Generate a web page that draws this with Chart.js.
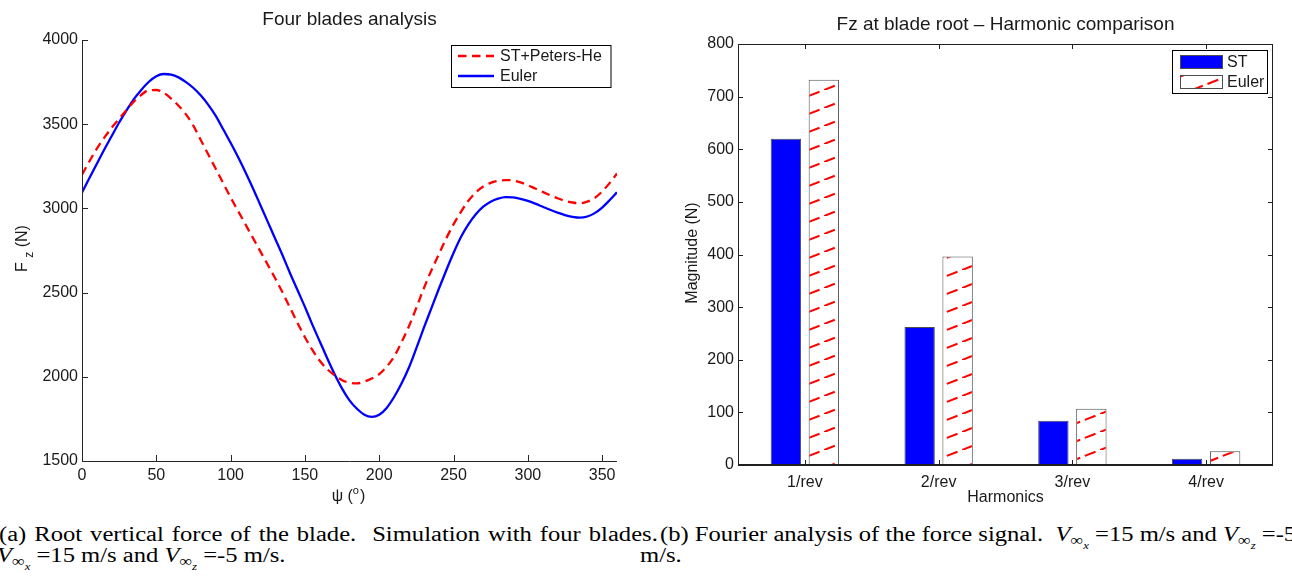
<!DOCTYPE html>
<html lang="en">

<head>
    <meta charset="UTF-8" />
    <title>Four blades analysis</title>
    <script src="https://cdn.jsdelivr.net/npm/chart.js"></script>
    <style>
        body {
            margin: 0;
            width: 1292px;
            height: 577px;
            overflow: hidden;
            background: #fff;
            position: relative;
        }

        .panel {
            position: absolute;
            top: 0;
        }

        .cap {
            position: absolute;
            font-family: "Liberation Serif", "Times New Roman", serif;
            font-size: 20.5px;
            line-height: 20px;
            white-space: nowrap;
            color: #000;
            transform: scaleX(1.2);
            transform-origin: 0 0;
        }

        .s1 {
            font-size: 0.72em;
            position: relative;
            top: 0.28em;
        }

        .s2 {
            font-size: 0.72em;
            position: relative;
            top: 0.35em;
        }
    </style>
</head>

<body>
    <div class="panel" style="left:0"><canvas id="fzChart" width="640" height="510"></canvas></div>
    <div class="panel" style="left:640px"><canvas id="harmChart" width="652" height="510"></canvas></div>

    <div class="cap" style="left:-1px; top:524px; width:549px; white-space:normal; text-align:justify; text-align-last:justify;">(a) Root vertical force of the blade.&nbsp; Simulation with four blades.</div>
    <div class="cap" style="left:-3px; top:545px;"><i>V</i><span class="s1">∞<span class="s2"><i>x</i></span></span> =15 m/s and <i>V</i><span class="s1">∞<span class="s2"><i>z</i></span></span> =-5 m/s.</div>
    <div class="cap" style="left:660px; top:524px;">(b) Fourier analysis of the force signal.&nbsp; <i>V</i><span class="s1">∞<span class="s2"><i>x</i></span></span> =15 m/s and <i>V</i><span class="s1">∞<span class="s2"><i>z</i></span></span> =-5</div>
    <div class="cap" style="left:640px; top:545px;">m/s.</div>

    <script>
        Chart.defaults.font.family = '"Liberation Sans", Arial, Helvetica, sans-serif';
        Chart.defaults.font.size = 16;
        Chart.defaults.color = '#1a1a1a';

        // azimuth (deg) and root force Fz (N)
        const psiDeg = [0, 5, 10, 15, 20, 25, 30, 35, 40, 45, 50, 55, 60, 65, 70, 75, 80, 85, 90, 95,
            100, 105, 110, 115, 120, 125, 130, 135, 140, 145, 150, 155, 160, 165, 170, 175, 180, 185, 190, 195,
            200, 205, 210, 215, 220, 225, 230, 235, 240, 245, 250, 255, 260, 265, 270, 275, 280, 285, 290, 295,
            300, 305, 310, 315, 320, 325, 330, 335, 340, 345, 350, 355, 360];
        const fzStPetersHe = [3200, 3280, 3355, 3420, 3480, 3532, 3585, 3635, 3675, 3702, 3703, 3686, 3652, 3610, 3558, 3490, 3405, 3320, 3235, 3150,
            3065, 2985, 2905, 2825, 2745, 2665, 2585, 2500, 2410, 2320, 2235, 2160, 2095, 2045, 2010, 1980, 1965, 1961, 1972, 1990,
            2016, 2060, 2120, 2205, 2300, 2410, 2525, 2630, 2725, 2820, 2905, 2980, 3045, 3095, 3130, 3152, 3163, 3168, 3166, 3155,
            3138, 3118, 3098, 3078, 3060, 3045, 3035, 3030, 3040, 3062, 3100, 3150, 3207];
        const fzEuler = [3095, 3180, 3265, 3350, 3430, 3510, 3582, 3650, 3705, 3752, 3785, 3798, 3795, 3778, 3750, 3715, 3670, 3615, 3550, 3470,
            3390, 3305, 3215, 3120, 3020, 2920, 2820, 2720, 2615, 2515, 2415, 2310, 2210, 2110, 2015, 1930, 1860, 1810, 1775, 1762,
            1775, 1815, 1880, 1960, 2055, 2170, 2290, 2405, 2520, 2630, 2735, 2830, 2905, 2965, 3010, 3040, 3058, 3067, 3065, 3057,
            3045, 3028, 3010, 2992, 2975, 2960, 2950, 2945, 2952, 2972, 3005, 3048, 3095];

        // harmonic magnitudes (N), right plot
        const harmonics = ['1/rev', '2/rev', '3/rev', '4/rev'];
        const magST = [620, 262, 84, 12];
        const magEuler = [732, 396, 107, 26];

        function makeHatch() {
            const W = 46, H = 18;
            const c = document.createElement('canvas');
            c.width = W;
            c.height = H;
            const g = c.getContext('2d');
            g.fillStyle = '#fff';
            g.fillRect(0, 0, W, H);
            g.strokeStyle = '#ff0000';
            g.lineWidth = 2;
            g.setLineDash([11.5, 5]);
            g.beginPath();
            g.moveTo(-W, 2 * H);
            g.lineTo(2 * W, -H);
            g.stroke();
            return g.createPattern(c, 'repeat');
        }

        function drawTicks(chart, len, box) {
            const { ctx, chartArea: a, scales } = chart;
            ctx.beginPath();
            scales.x.ticks.forEach((t, i) => {
                const px = Math.round(scales.x.getPixelForTick(i)) + 0.5;
                ctx.moveTo(px, a.bottom);
                ctx.lineTo(px, a.bottom - len);
                if (box) {
                    ctx.moveTo(px, a.top);
                    ctx.lineTo(px, a.top + len);
                }
            });
            scales.y.ticks.forEach((t, i) => {
                const py = Math.round(scales.y.getPixelForTick(i)) + 0.5;
                ctx.moveTo(a.left, py);
                ctx.lineTo(a.left + len, py);
                if (box) {
                    ctx.moveTo(a.right, py);
                    ctx.lineTo(a.right - len, py);
                }
            });
            ctx.stroke();
        }

        // left plot decorations: axes, ticks, titles, legend
        const fzDeco = {
            id: 'fzDeco',
            afterDraw(chart) {
                const { ctx, chartArea: a } = chart;
                const ds = chart.data.datasets;
                ctx.save();
                ctx.strokeStyle = '#262626';
                ctx.lineWidth = 1;
                ctx.beginPath();
                ctx.moveTo(a.left + 0.5, a.top);
                ctx.lineTo(a.left + 0.5, a.bottom + 0.5);
                ctx.lineTo(a.right, a.bottom + 0.5);
                ctx.stroke();
                drawTicks(chart, 6, false);

                ctx.fillStyle = '#1a1a1a';
                ctx.textBaseline = 'alphabetic';
                ctx.textAlign = 'center';
                ctx.font = '19px "Liberation Sans", Arial, sans-serif';
                ctx.fillText('Four blades analysis', (a.left + a.right) / 2, 24.5);

                // psi (o)
                ctx.textAlign = 'left';
                ctx.font = '16px "Liberation Sans", Arial, sans-serif';
                const p1 = 'ψ (', w1 = ctx.measureText(p1).width, w3 = ctx.measureText(')').width;
                ctx.font = '11px "Liberation Sans", Arial, sans-serif';
                const w2 = ctx.measureText('o').width;
                let x0 = 348 - (w1 + w2 + w3) / 2;
                ctx.font = '16px "Liberation Sans", Arial, sans-serif';
                ctx.fillText(p1, x0, 501);
                ctx.font = '11px "Liberation Sans", Arial, sans-serif';
                ctx.fillText('o', x0 + w1, 494);
                ctx.font = '16px "Liberation Sans", Arial, sans-serif';
                ctx.fillText(')', x0 + w1 + w2 + 1, 501);

                // F_z (N)
                ctx.save();
                ctx.translate(26.5, 248.5);
                ctx.rotate(-Math.PI / 2);
                const fW = ctx.measureText('F ').width, nW = ctx.measureText(' (N)').width;
                ctx.font = '12px "Liberation Sans", Arial, sans-serif';
                const zW = ctx.measureText('z').width;
                let s = -(fW + zW + nW) / 2;
                ctx.font = '16px "Liberation Sans", Arial, sans-serif';
                ctx.fillText('F ', s, 0);
                ctx.font = '12px "Liberation Sans", Arial, sans-serif';
                ctx.fillText('z', s + fW, 6);
                ctx.font = '16px "Liberation Sans", Arial, sans-serif';
                ctx.fillText(' (N)', s + fW + zW, 0);
                ctx.restore();

                // legend
                const bx = 451.5, by = 45.5, bw = 159.5, bh = 42;
                ctx.fillStyle = '#fff';
                ctx.fillRect(bx, by, bw, bh);
                ctx.strokeStyle = '#000';
                ctx.lineWidth = 1;
                ctx.strokeRect(bx, by, bw, bh);
                ctx.save();
                ctx.beginPath();
                ctx.rect(bx, by, bw - 1, bh);
                ctx.clip();
                ds.forEach((d, i) => {
                    const y = 56 + i * 20;
                    ctx.strokeStyle = d.borderColor;
                    ctx.lineWidth = d.borderWidth;
                    ctx.setLineDash(d.borderDash || []);
                    ctx.beginPath();
                    ctx.moveTo(458, y);
                    ctx.lineTo(494, y);
                    ctx.stroke();
                    ctx.setLineDash([]);
                    ctx.fillStyle = '#1a1a1a';
                    ctx.textBaseline = 'middle';
                    ctx.fillText(d.label, 500, y + 1);
                });
                ctx.restore();
                ctx.restore();
            }
        };

        // right plot decorations
        const harmDeco = {
            id: 'harmDeco',
            afterDraw(chart) {
                const { ctx, chartArea: a } = chart;
                const ds = chart.data.datasets;
                ctx.save();
                ctx.strokeStyle = '#1f1f1f';
                ctx.lineWidth = 1;
                ctx.strokeRect(a.left + 0.5, a.top + 0.5, a.right - a.left - 1, a.bottom - a.top);
                drawTicks(chart, 5, true);
                ctx.lineWidth = 2;
                ctx.beginPath();
                ctx.moveTo(a.left, a.bottom);
                ctx.lineTo(a.right, a.bottom);
                ctx.stroke();

                ctx.fillStyle = '#1a1a1a';
                ctx.textAlign = 'center';
                ctx.textBaseline = 'alphabetic';
                ctx.font = '19px "Liberation Sans", Arial, sans-serif';
                ctx.fillText('Fz at blade root \u2013 Harmonic comparison', (a.left + a.right) / 2, 29.5);
                ctx.font = '16px "Liberation Sans", Arial, sans-serif';
                ctx.fillText('Harmonics', (a.left + a.right) / 2, 502);
                ctx.save();
                ctx.translate(57, 253);
                ctx.rotate(-Math.PI / 2);
                ctx.fillText('Magnitude (N)', 0, 0);
                ctx.restore();

                // legend
                const bx = 532.5, by = 50.5, bw = 95, bh = 43;
                ctx.fillStyle = '#fff';
                ctx.fillRect(bx, by, bw, bh);
                ctx.strokeStyle = '#000';
                ctx.lineWidth = 1;
                ctx.strokeRect(bx, by, bw, bh);
                ctx.textAlign = 'left';
                ctx.textBaseline = 'middle';
                ds.forEach((d, i) => {
                    const y = 55 + i * 20;
                    ctx.fillStyle = d.backgroundColor;
                    ctx.fillRect(540, y, 43, 14);
                    ctx.strokeStyle = d.borderColor;
                    ctx.strokeRect(540.5, y + 0.5, 42, 13);
                    ctx.fillStyle = '#1a1a1a';
                    ctx.fillText(d.label, 587, y + 8);
                });
                ctx.restore();
            }
        };

        const fzData = {
            datasets: [
                {
                    label: 'ST+Peters-He',
                    data: psiDeg.map((p, i) => ({ x: p, y: fzStPetersHe[i] })),
                    borderColor: '#ff0000',
                    borderWidth: 2.3,
                    borderDash: [8.5, 5.5],
                },
                {
                    label: 'Euler',
                    data: psiDeg.map((p, i) => ({ x: p, y: fzEuler[i] })),
                    borderColor: '#0000ff',
                    borderWidth: 2.3,
                },
            ],
        };

        const fzConfig = {
            type: 'line',
            data: fzData,
            options: {
                responsive: false,
                animation: false,
                layout: { padding: { left: 0, right: 23, top: 40, bottom: 0 } },
                elements: { point: { radius: 0 }, line: { cubicInterpolationMode: 'monotone', fill: false } },
                plugins: { legend: { display: false }, tooltip: { enabled: false } },
                scales: {
                    x: {
                        type: 'linear',
                        min: 0,
                        max: 360,
                        grid: { display: false, drawTicks: false },
                        border: { display: false },
                        ticks: { stepSize: 50, includeBounds: false, padding: 5, maxRotation: 0, autoSkip: false, callback: (v) => String(v) },
                        afterFit: (s) => { s.height = 49; },
                    },
                    y: {
                        min: 1500,
                        max: 4000,
                        grid: { display: false, drawTicks: false },
                        border: { display: false },
                        ticks: { stepSize: 500, padding: 4, callback: (v) => String(v) },
                        afterFit: (s) => { s.width = 82; },
                    },
                },
            },
            plugins: [fzDeco],
        };

        const hatch = makeHatch();

        const harmConfig = {
            type: 'bar',
            data: {
                labels: harmonics,
                datasets: [
                    {
                        label: 'ST',
                        data: magST,
                        backgroundColor: '#0000ff',
                        borderColor: '#4d4d4d',
                        borderWidth: 1,
                        categoryPercentage: 0.568,
                        barPercentage: 0.8,
                    },
                    {
                        label: 'Euler',
                        data: magEuler,
                        backgroundColor: hatch,
                        borderColor: '#4d4d4d',
                        borderWidth: 1,
                        categoryPercentage: 0.568,
                        barPercentage: 0.8,
                    },
                ],
            },
            options: {
                responsive: false,
                animation: false,
                layout: { padding: { left: 0, right: 19, top: 44, bottom: 0 } },
                plugins: { legend: { display: false }, tooltip: { enabled: false } },
                scales: {
                    x: {
                        grid: { display: false, drawTicks: false },
                        border: { display: false },
                        ticks: { padding: 8, maxRotation: 0 },
                        afterFit: (s) => { s.height = 45; },
                    },
                    y: {
                        min: 0,
                        max: 800,
                        grid: { display: false, drawTicks: false },
                        border: { display: false },
                        ticks: { stepSize: 100, padding: 4, callback: (v) => String(v) },
                        afterFit: (s) => { s.width = 98; },
                    },
                },
            },
            plugins: [harmDeco],
        };

        new Chart(document.getElementById('fzChart').getContext('2d'), fzConfig);
        new Chart(document.getElementById('harmChart').getContext('2d'), harmConfig);
    </script>
</body>

</html>
